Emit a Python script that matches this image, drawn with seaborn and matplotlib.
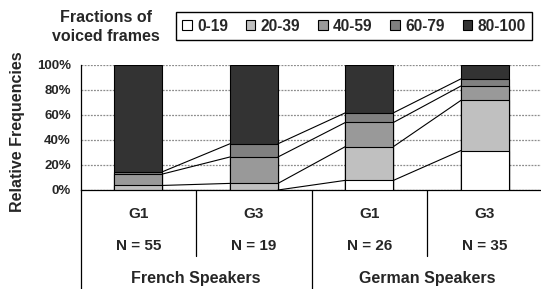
import matplotlib
matplotlib.use("Agg")
import matplotlib.pyplot as plt
import matplotlib.transforms as mtrans
from matplotlib.lines import Line2D
from matplotlib.patches import Patch
import seaborn as sns
import numpy as np
import pandas as pd

# ---------------- data ----------------
bar_ids = ["French G1", "French G3", "German G1", "German G3"]
group_labels = ["G1", "G3", "G1", "G3"]
n_labels = ["N = 55", "N = 19", "N = 26", "N = 35"]
speakers = ["French Speakers", "German Speakers"]
bins = ["0-19", "20-39", "40-59", "60-79", "80-100"]
n_total = [55, 19, 26, 35]
counts_0_19 = [0, 0, 2, 11]
counts_20_39 = [2, 1, 7, 14]
counts_40_59 = [5, 4, 5, 4]
counts_60_79 = [1, 2, 2, 2]
counts_80_100 = [47, 12, 10, 4]
colors = ["#FFFFFF", "#C0C0C0", "#999999", "#808080", "#333333"]

# ---------------- setup ----------------
sns.set_theme(style="white")
plt.rcParams["font.family"] = ["Liberation Sans", "DejaVu Sans"]
plt.rcParams["font.weight"] = "bold"

W, H = 541, 289
fig = plt.figure(figsize=(W / 100, H / 100), dpi=100)
fig.patch.set_facecolor("white")

def fy(py):
    return 1 - py / H

ax_left, ax_top, ax_bottom = 80.7, 64.5, 190.0
ax = fig.add_axes([ax_left / W, fy(ax_bottom), 1 - ax_left / W, (ax_bottom - ax_top) / H])

counts = np.array([counts_0_19, counts_20_39, counts_40_59, counts_60_79, counts_80_100], dtype=float)
pct = counts / np.array(n_total, dtype=float) * 100
cum = np.cumsum(pct, axis=0)

df = pd.DataFrame({"bar": bar_ids})
for k in range(len(bins)):
    df[bins[k]] = cum[k]

bw = 0.416
for k in range(len(bins) - 1, -1, -1):
    sns.barplot(data=df, x="bar", y=bins[k], order=bar_ids, color=colors[k],
                saturation=1, width=bw, edgecolor="black", linewidth=0.8,
                errorbar=None, ax=ax, zorder=3)

# connector lines between segment boundaries
for i in range(len(bar_ids) - 1):
    for k in range(len(bins) - 1):
        ax.plot([i + bw / 2, i + 1 - bw / 2], [cum[k][i], cum[k][i + 1]],
                color="black", lw=0.8, zorder=4)

ax.set_xlim(-0.5, 3.485)
ax.set_ylim(0, 100)
ax.set_yticks([0, 20, 40, 60, 80, 100])
ax.set_yticklabels([f"{v}%" for v in [0, 20, 40, 60, 80, 100]], fontsize=9.5, fontweight="bold")
ax.set_xticks([])
ax.set_xlabel("")
ax.set_ylabel("")
ax.yaxis.grid(True, color="#8c8c8c", linestyle=(0, (1.5, 1)), lw=0.9)
ax.set_axisbelow(True)
ax.tick_params(axis="y", direction="out", length=4, width=0.8, color="black", pad=3)
for s in ["top", "right"]:
    ax.spines[s].set_visible(False)
for s in ["left", "bottom"]:
    ax.spines[s].set_color("black")
    ax.spines[s].set_linewidth(0.9)

# multi-level x labels
tr = mtrans.blended_transform_factory(ax.transData, fig.transFigure)
for i in range(len(bar_ids)):
    fig.text(i, fy(214.3), group_labels[i], transform=tr, ha="center", va="center",
             fontsize=11, fontweight="bold")
    fig.text(i, fy(246.3), n_labels[i], transform=tr, ha="center", va="center",
             fontsize=11, fontweight="bold")
for j, sp in enumerate(speakers):
    fig.text(2 * j + 0.5, fy(278), sp, transform=tr, ha="center", va="center",
             fontsize=11.5, fontweight="bold")

for x, ybot in [(-0.5, H), (0.5, 256), (1.5, H), (2.5, 256)]:
    fig.add_artist(Line2D([x, x], [fy(ax_bottom), fy(ybot)], transform=tr,
                          color="black", lw=0.9))

# y label
fig.text(18 / W, fy(131.7), "Relative Frequencies", rotation=90, ha="center", va="center",
         fontsize=11.5, fontweight="bold")

# legend title text
fig.text(106 / W, fy(27), "Fractions of\nvoiced frames", ha="center", va="center",
         fontsize=11.5, fontweight="bold", linespacing=1.3)

handles = [Patch(facecolor=c, edgecolor="black", linewidth=0.8) for c in colors]
leg = fig.legend(handles, bins, ncol=5, loc="upper left",
                 bbox_to_anchor=(176 / W, fy(12.3)), borderaxespad=0,
                 frameon=True, fancybox=False, edgecolor="black", framealpha=1,
                 handlelength=0.6, handleheight=0.6, handletextpad=0.35,
                 columnspacing=1.15, borderpad=0.4,
                 prop={"weight": "bold", "size": 11.2})
leg.get_frame().set_linewidth(1.0)

fig.savefig("out.png", dpi=100, facecolor="white")
